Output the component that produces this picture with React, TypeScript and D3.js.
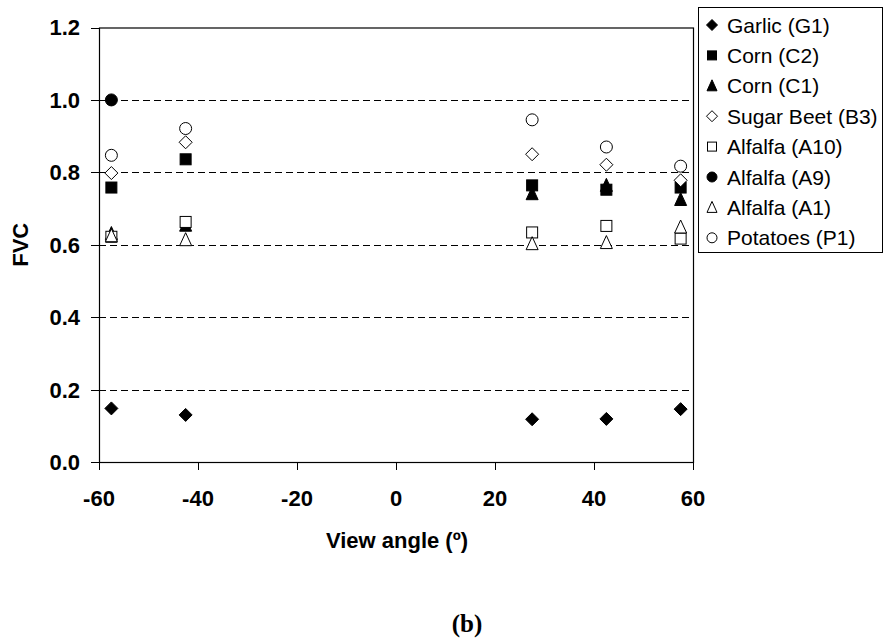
import React from "react"
import * as d3 from "d3"

// view angles (deg) of the five acquisitions
const angles = [-57.5, -42.5, 27.5, 42.5, 57.5]

const seriesNames = [
  "Garlic (G1)",
  "Corn (C2)",
  "Corn (C1)",
  "Sugar Beet (B3)",
  "Alfalfa (A10)",
  "Alfalfa (A9)",
  "Alfalfa (A1)",
  "Potatoes (P1)",
]
const markerTypes = ["diamond", "square", "triangle", "diamond", "square", "circle", "triangle", "circle"]
const markerFilled = [true, true, true, false, false, true, false, false]

// FVC per series, null = not measured
const garlicG1 = [0.148, 0.13, 0.118, 0.119, 0.146]
const cornC2 = [0.758, 0.836, 0.764, 0.752, 0.758]
const cornC1 = [0.631, 0.654, 0.741, 0.764, 0.725]
const sugarBeetB3 = [0.798, 0.883, 0.85, 0.821, 0.778]
const alfalfaA10 = [0.622, 0.663, 0.634, 0.652, 0.617]
const alfalfaA9 = [1.0, null, null, null, null]
const alfalfaA1 = [0.625, 0.614, 0.603, 0.606, 0.649]
const potatoesP1 = [0.847, 0.921, 0.945, 0.87, 0.817]

const seriesValues = [garlicG1, cornC2, cornC1, sugarBeetB3, alfalfaA10, alfalfaA9, alfalfaA1, potatoesP1]

const xTicks = [-60, -40, -20, 0, 20, 40, 60]
const yTicks = [0, 0.2, 0.4, 0.6, 0.8, 1.0, 1.2]

const W = 883
const H = 641
const plot = { left: 99, right: 693, top: 27.5, bottom: 462 }
const font = "'Liberation Sans', Arial, sans-serif"

function Marker({ type, filled, cx, cy, s }) {
  const fill = filled ? "#000" : "#fff"
  const h = s / 2
  if (type === "circle")
    return <circle cx={cx} cy={cy} r={h} fill={fill} stroke="#000" strokeWidth={1} />
  if (type === "square")
    return <rect x={cx - h + 0.5} y={cy - h + 0.5} width={s - 1} height={s - 1} fill={fill} stroke="#000" strokeWidth={1} />
  if (type === "diamond")
    return (
      <path
        d={`M${cx},${cy - h - 0.5}L${cx + h + 0.5},${cy}L${cx},${cy + h + 0.5}L${cx - h - 0.5},${cy}Z`}
        fill={fill}
        stroke="#000"
        strokeWidth={1}
      />
    )
  return (
    <path
      d={`M${cx},${cy - h - 1}L${cx + h},${cy + h}L${cx - h},${cy + h}Z`}
      fill={fill}
      stroke="#000"
      strokeWidth={1}
    />
  )
}

export default function App() {
  const x = d3.scaleLinear().domain([-60, 60]).range([plot.left, plot.right])
  const y = d3.scaleLinear().domain([0, 1.2]).range([plot.bottom, plot.top])
  const fmt = d3.format(".1f")

  const legend = { x: 698.5, y: 7.5, w: 184, h: 245, row: 30.4 }

  return (
    <div style={{ position: "absolute", left: 0, top: 0 }}>
      <svg width={W} height={H} style={{ display: "block", background: "#fff" }}>
        <rect width={W} height={H} fill="#fff" />

        {/* gridlines */}
        {yTicks.slice(1, -1).map(t => (
          <line
            key={t}
            x1={plot.left}
            x2={plot.right}
            y1={Math.round(y(t)) + 0.5}
            y2={Math.round(y(t)) + 0.5}
            stroke="#000"
            strokeDasharray="7,4"
          />
        ))}

        {/* frame */}
        <rect
          x={plot.left + 0.5}
          y={plot.top + 0.5}
          width={plot.right - plot.left}
          height={plot.bottom - plot.top}
          fill="none"
          stroke="#000"
          strokeWidth={1.2}
        />

        {/* y axis */}
        {yTicks.map(t => (
          <g key={t}>
            <line x1={plot.left - 8} x2={plot.left} y1={Math.round(y(t)) + 0.5} y2={Math.round(y(t)) + 0.5} stroke="#000" />
            <text
              x={80}
              y={y(t)}
              dy="0.36em"
              textAnchor="end"
              fontFamily={font}
              fontWeight="bold"
              fontSize={22}
            >
              {fmt(t)}
            </text>
          </g>
        ))}
        <text
          transform={`translate(28,${(plot.top + plot.bottom) / 2}) rotate(-90)`}
          textAnchor="middle"
          fontFamily={font}
          fontWeight="bold"
          fontSize={22}
        >
          FVC
        </text>

        {/* x axis */}
        {xTicks.map(t => (
          <g key={t}>
            <line x1={Math.round(x(t)) + 0.5} x2={Math.round(x(t)) + 0.5} y1={plot.bottom} y2={plot.bottom + 8} stroke="#000" />
            <text
              x={x(t)}
              y={506}
              textAnchor="middle"
              fontFamily={font}
              fontWeight="bold"
              fontSize={22}
            >
              {t}
            </text>
          </g>
        ))}
        <text x={397} y={548} textAnchor="middle" fontFamily={font} fontWeight="bold" fontSize={22}>
          View angle (º)
        </text>

        {/* data points */}
        {seriesValues.map((vals, si) =>
          vals.map((v, i) =>
            v == null ? null : (
              <Marker
                key={`${si}-${i}`}
                type={markerTypes[si]}
                filled={markerFilled[si]}
                cx={x(angles[i])}
                cy={y(v)}
                s={12}
              />
            )
          )
        )}

        {/* legend */}
        <rect x={legend.x} y={legend.y} width={legend.w} height={legend.h} fill="#fff" stroke="#000" />
        {seriesNames.map((name, i) => {
          const cy = 25 + i * legend.row
          return (
            <g key={name}>
              <Marker type={markerTypes[i]} filled={markerFilled[i]} cx={712} cy={cy} s={10} />
              <text x={727} y={cy} dy="0.36em" fontFamily={font} fontSize={21}>
                {name}
              </text>
            </g>
          )
        })}

        <text x={467} y={632} textAnchor="middle" fontFamily="'Liberation Serif', 'Times New Roman', serif" fontWeight="bold" fontSize={25}>
          (b)
        </text>
      </svg>
    </div>
  )
}
